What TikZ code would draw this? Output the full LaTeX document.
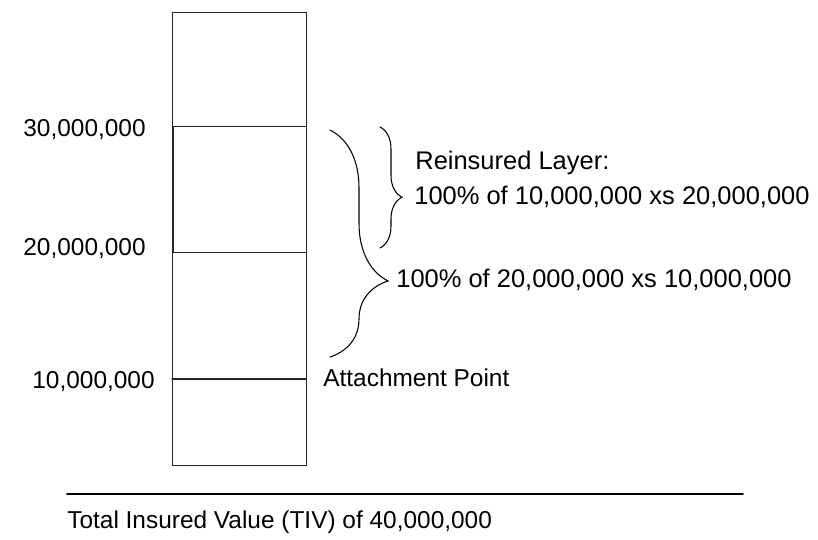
\documentclass[tikz,border=0pt]{standalone}
\usepackage{fontspec}
\setmainfont{Liberation Sans}
\usetikzlibrary{calc,positioning,decorations.pathreplacing}
\tikzset{
  lbl/.style={font=\fontsize{13.9}{16}\selectfont,inner sep=0pt},
  biglbl/.style={font=\fontsize{14.5}{17}\selectfont,inner sep=0pt},
  bar/.style={draw=black!85,line width=0.6pt},
  curly/.style={decorate,line width=0.6pt,decoration={brace,amplitude=#1}},
}

\begin{document}
\begin{tikzpicture}[x=0.2mm,y=-0.2mm,line cap=round]
\useasboundingbox (0,0) rectangle (818,539);
% the tower of values
\node[bar,minimum width=134*0.2mm,minimum height=453*0.2mm,anchor=north west,inner sep=0pt] (tower) at (172,12) {};
\node[bar,minimum width=133*0.2mm,minimum height=126*0.2mm,anchor=north west,inner sep=0pt] (layer) at (173,126) {};
\coordinate (attL) at (172,379);
\coordinate (attR) at (306,379);
\draw[bar] (attL) -- (attR);
% ground line
\coordinate (groundL) at (67,494);
\coordinate (groundR) at (743,494);
\draw[line width=1.1pt] (groundL) -- (groundR);
% values on the left
\node[lbl,anchor=east] (v30) at (146,130) {30,000,000};
\node[lbl,anchor=east] (v20) at (146,249) {20,000,000};
\node[lbl,anchor=east] (v10) at (155,382) {10,000,000};
\node[lbl,anchor=west] (attach) at (323,378) {Attachment Point};
\node[lbl,anchor=west] (tiv) at (67,522) {Total Insured Value (TIV) of 40,000,000};
% braces
\coordinate (bigtop) at (330,130);
\coordinate (bigbot) at (330,357);
\coordinate (smalltop) at (380,127);
\coordinate (smallbot) at (380,248);
\draw[curly=11.6mm,decoration={aspect=0.665}] (bigtop) -- (bigbot);
\draw[curly=4.4mm,decoration={aspect=0.58}] (smalltop) -- (smallbot);
\node[biglbl,anchor=west] (reins) at (415,163) {Reinsured Layer:};
\node[biglbl,anchor=west] (upper) at (414,197) {100\% of 10,000,000 xs 20,000,000};
\node[biglbl,anchor=west] (lower) at (396,280) {100\% of 20,000,000 xs 10,000,000};
\end{tikzpicture}
\end{document}
